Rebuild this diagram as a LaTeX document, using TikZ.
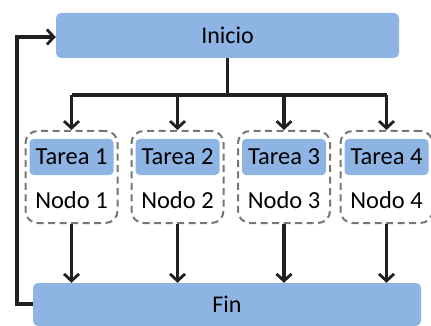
\documentclass[tikz,border=0pt]{standalone}
\usepackage{fontspec}
\setmainfont{Carlito}
\usetikzlibrary{arrows.meta}
\definecolor{boxblue}{HTML}{8EB4E3}
\definecolor{dashgray}{HTML}{767676}
\definecolor{linedark}{HTML}{202020}
\begin{document}
\begin{tikzpicture}[x=1pt,y=-1pt,
  bluebox/.style={fill=boxblue,draw=none,rounded corners=5pt,font=\fontsize{24}{28}\selectfont,text=black,inner sep=0pt},
  nodebox/.style={draw=dashgray,dashed,dash pattern=on 7pt off 4.5pt,line width=2pt,rounded corners=12pt,minimum width=92pt,minimum height=92pt,inner sep=0pt},
  tarea/.style={fill=boxblue,rounded corners=4pt,minimum width=84pt,minimum height=36pt,font=\fontsize{24.5}{28}\selectfont,inner sep=0pt},
  nlabel/.style={font=\fontsize{24.5}{28}\selectfont,inner sep=0pt},
  conn/.style={draw=linedark,line width=3.2pt},
  arr/.style={conn,-{Straight Barb[length=7pt,width=15pt,line width=2.8pt]}}
]
\useasboundingbox (0,0) rectangle (431,326);
\node[bluebox,minimum width=343pt,minimum height=45pt] (inicio) at (227.5,35.5) {Inicio};
\node[bluebox,minimum width=388pt,minimum height=43pt] (fin) at (227,304.5) {Fin};

\foreach \i/\x in {1/71.5,2/177.5,3/284,4/386.5}{
  \node[nodebox] (nb\i) at (\x,177) {};
  \node[tarea] (t\i) at (\x,157) {Tarea \i};
  \node[nlabel] (n\i) at (\x,200) {Nodo \i};
}

\coordinate (split) at (227.5,95);
\draw[conn] (inicio.south) -- (split);
\draw[conn] (nb1.north |- split) -- (nb4.north |- split);
\foreach \i in {1,...,4}{
  \draw[arr] (nb\i.north |- split) -- (nb\i.north);
  \draw[arr] (nb\i.south) -- (nb\i.south |- fin.north);
}
\coordinate (fbl) at (17,304);
\coordinate (fbt) at (17,37);
\draw[arr,line join=miter] (fin.west |- fbl) -- (fbl) -- (fbt) -- (inicio.west |- fbt);
\end{tikzpicture}
\end{document}
